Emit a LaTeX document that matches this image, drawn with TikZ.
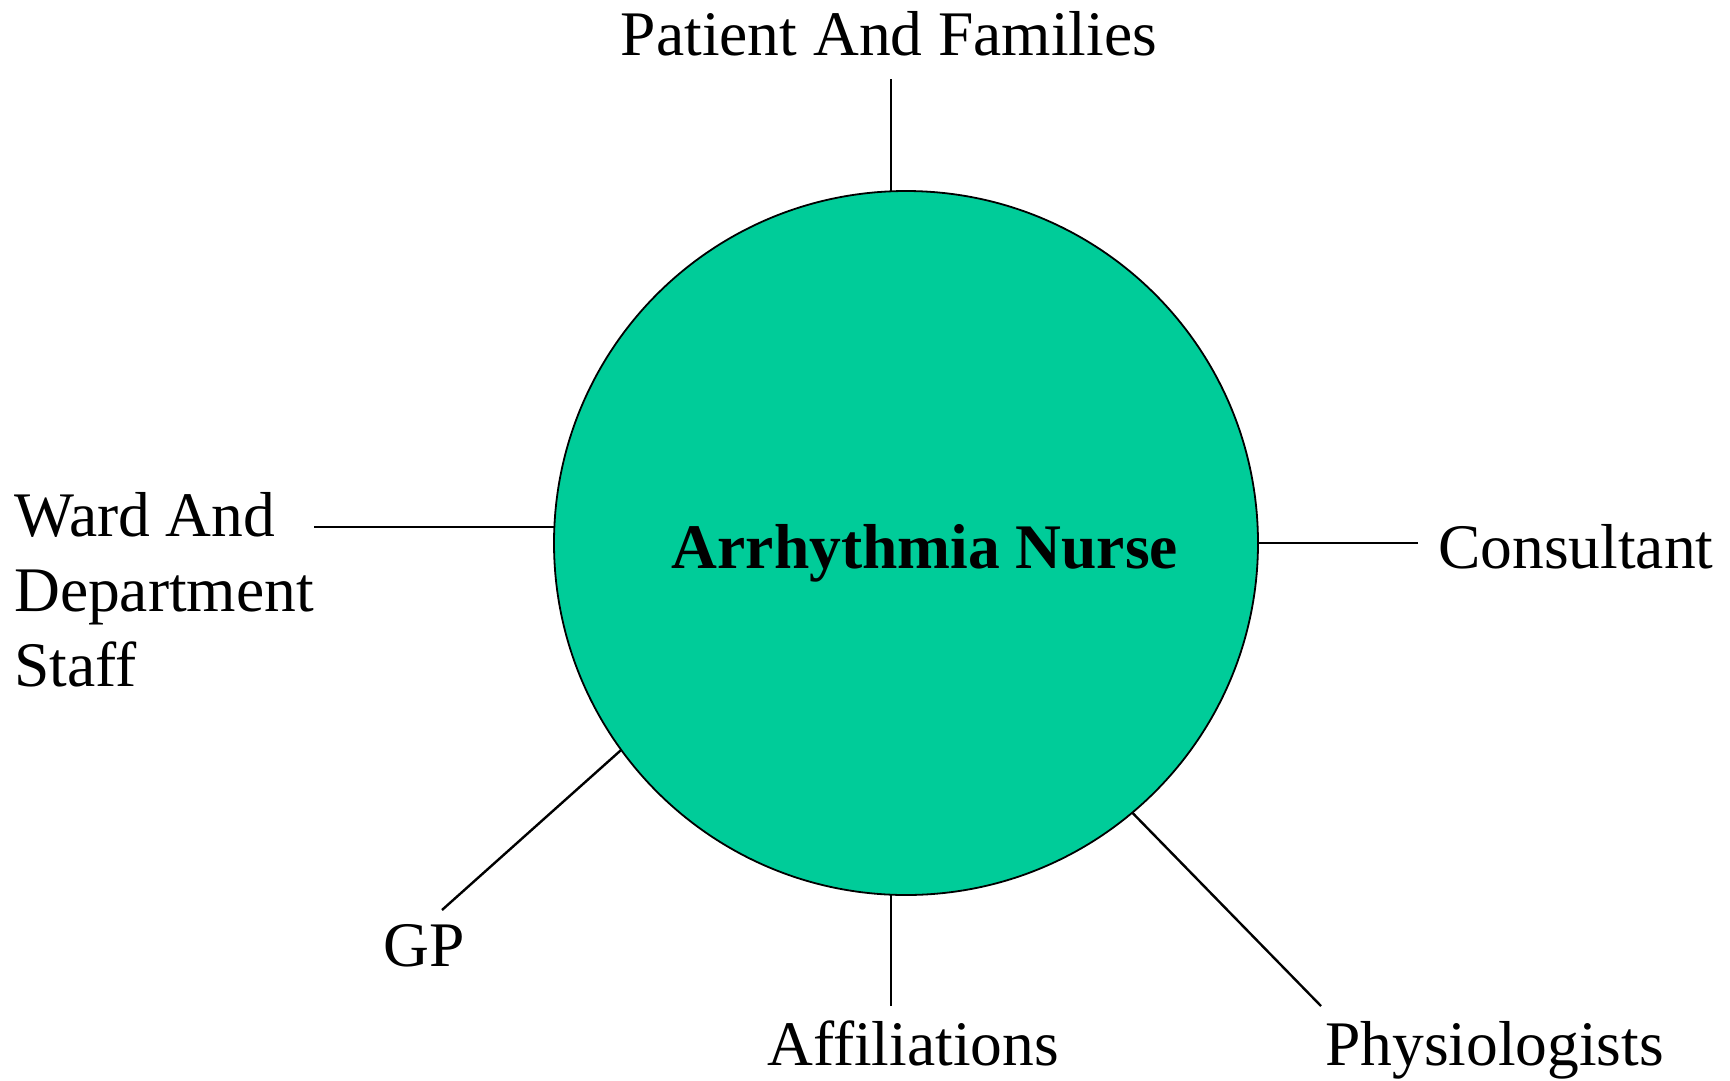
\documentclass[tikz,border=0pt]{standalone}
\usepackage{fontspec}
\setmainfont{Liberation Serif}
\definecolor{nursegreen}{RGB}{0,204,153}
\tikzset{
  hub/.style={circle, draw=black, line width=1.8pt, fill=nursegreen, minimum size=704pt, inner sep=0pt, outer sep=0pt},
  lbl/.style={inner sep=0pt, font=\fontsize{63.5}{75}\selectfont},
  title/.style={inner sep=0pt, font=\fontsize{63.5}{75}\selectfont\bfseries},
  link/.style={draw=black, line width=2.4pt}
}
\begin{document}
\begin{tikzpicture}[x=1pt,y=-1pt]
\useasboundingbox (0,0) rectangle (1730,1080);
\node[hub] (c) at (906,543) {};
\node[title, anchor=base] (t) at (925,568) {Arrhythmia Nurse};
\node[lbl, anchor=base] (pf) at (889,55) {Patient And Families};
\node[lbl, anchor=base west] (ward) at (14,536) {\vtop{\hbox{Ward And}\hbox{Department}\hbox{Staff}}};
\node[lbl, anchor=base west] (cons) at (1438,568) {Consultant};
\node[lbl, anchor=base west] (gp) at (383,966) {GP};
\node[lbl, anchor=base] (aff) at (913,1065) {Affiliations};
\node[lbl, anchor=base west] (phys) at (1325,1065) {Physiologists};
\coordinate (pfend) at (891,79);
\coordinate (wardend) at (314,527);
\coordinate (consend) at (1418,543);
\coordinate (gpend) at (442,910);
\coordinate (affend) at (891,1006);
\coordinate (physend) at (1321,1006);
\draw[link] (pfend) -- (c.92.4 -| pfend);
\draw[link] (wardend) -- (c.177.4 |- wardend);
\draw[link] (consend) -- (c.east);
\draw[link] (gpend) -- (c.216);
\draw[link] (affend) -- (c.267.6 -| affend);
\draw[link] (physend) -- (c.310);
\end{tikzpicture}
\end{document}
